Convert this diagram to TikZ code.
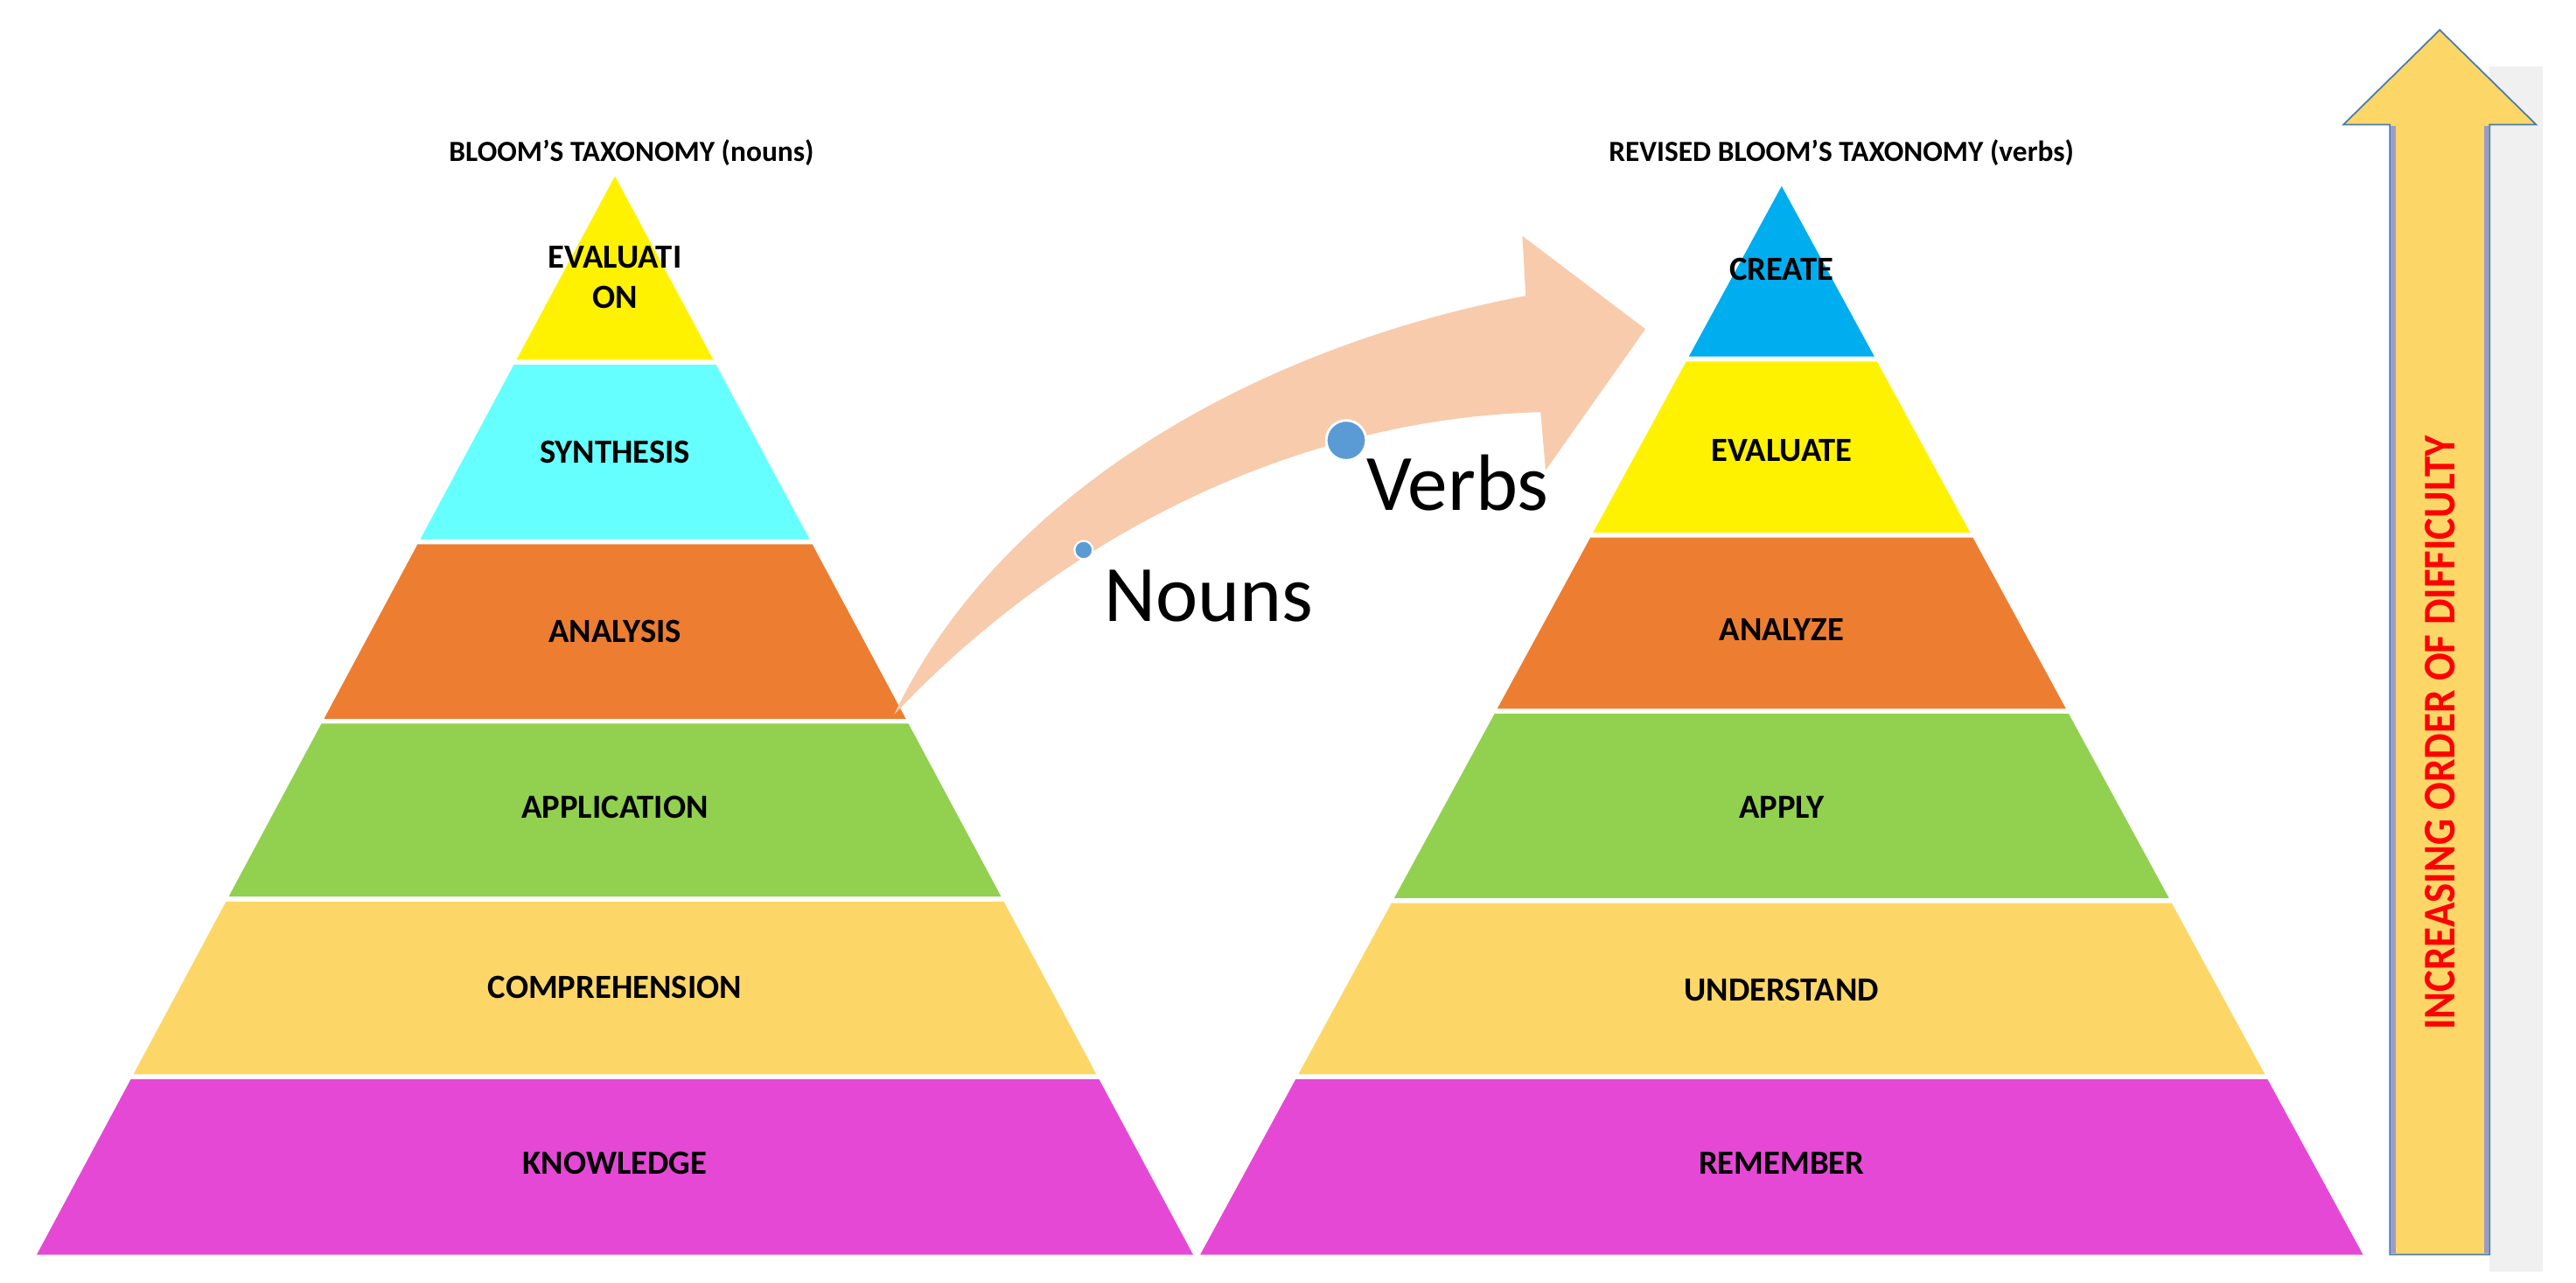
\documentclass[tikz,border=0pt]{standalone}
\usepackage{fontspec}
\setmainfont{Carlito}
\definecolor{cyanL}{HTML}{66FFFF}
\definecolor{orng}{HTML}{ED7D31}
\definecolor{grn}{HTML}{92D050}
\definecolor{lor}{HTML}{FCD767}
\definecolor{mag}{HTML}{E648D6}
\definecolor{peach}{HTML}{F7CBAC}
\definecolor{dotb}{HTML}{5B9BD5}
\newcommand\pband[6]{\fill[#6] ({#1-#3*(#4-#2)},#4) -- ({#1+#3*(#4-#2)},#4) -- ({#1+#3*(#5-#2)},#5) -- ({#1-#3*(#5-#2)},#5) -- cycle;}
\begin{document}
\begin{tikzpicture}[x=0.019cm,y=-0.019cm,
  lbl/.style={font=\fontsize{11}{13}\selectfont\bfseries,align=center},
  ttl/.style={font=\fontsize{9.5}{11}\selectfont\bfseries},
  big/.style={font=\fontsize{26}{30}\selectfont,anchor=base west}]
\useasboundingbox (0,0) rectangle (1550,771.6);
% background strip
\fill[black!6] (1498,40) rectangle (1530,765);
% left pyramid
\pband{370}{106}{0.536}{106}{216.5}{yellow}
\pband{370}{106}{0.536}{219.5}{324.5}{cyanL}
\pband{370}{106}{0.536}{327.5}{432.5}{orng}
\pband{370}{106}{0.536}{435.5}{539.5}{grn}
\pband{370}{106}{0.536}{542.5}{646.5}{lor}
\pband{370}{106}{0.536}{649.5}{755}{mag}
% right pyramid
\pband{1072}{112}{0.544}{112}{214.5}{cyan}
\pband{1072}{112}{0.544}{217.5}{320.5}{yellow}
\pband{1072}{112}{0.544}{323.5}{426.5}{orng}
\pband{1072}{112}{0.544}{429.5}{540.5}{grn}
\pband{1072}{112}{0.544}{543.5}{646.5}{lor}
\pband{1072}{112}{0.544}{649.5}{755}{mag}
% titles
\node[ttl] (t1) at (380,92) {BLOOM’S TAXONOMY (nouns)};
\node[ttl] (t2) at (1108,92) {REVISED BLOOM’S TAXONOMY (verbs)};
% left labels
\node[lbl] (l1) at (370,167) {EVALUATI\\ON};
\node[lbl] (l2) at (370,272) {SYNTHESIS};
\node[lbl] (l3) at (370,380) {ANALYSIS};
\node[lbl] (l4) at (370,486) {APPLICATION};
\node[lbl] (l5) at (370,594) {COMPREHENSION};
\node[lbl] (l6) at (370,700) {KNOWLEDGE};
% right labels
\node[lbl] (r1) at (1072,162) {CREATE};
\node[lbl] (r2) at (1072,271) {EVALUATE};
\node[lbl] (r3) at (1072,379) {ANALYZE};
\node[lbl] (r4) at (1072,486) {APPLY};
\node[lbl] (r5) at (1072,596) {UNDERSTAND};
\node[lbl] (r6) at (1072,700) {REMEMBER};
% curved arrow
\fill[peach] (538,430) .. controls (600,300) and (750,210) .. (918,178) -- (916,142) -- (990,198) -- (930,283) -- (927,248) .. controls (780,252) and (640,322) .. (538,430) -- cycle;
\fill[dotb,draw=white,line width=0.6pt] (652,331) circle (5.5);
\fill[dotb,draw=white,line width=0.8pt] (810,265) circle (12);
\node[big,inner sep=0] (nouns) at (664,374) {Nouns};
\node[big,inner sep=0] (verbs) at (822,307) {Verbs};
% vertical arrow
\filldraw[fill=lor,draw=dotb!80!black,line width=0.5pt] (1438,755) -- (1438,75) -- (1410,75) -- (1468,18) -- (1526,75) -- (1498,75) -- (1498,755) -- cycle;
\draw[gray!70!blue!60,line width=1.5pt] (1440,76) -- (1440,754) (1496,76) -- (1496,754);
\node[rotate=90,text=red,inner sep=0] (diff) at (1468,441) {\resizebox{6.8cm}{0.34cm}{\bfseries INCREASING ORDER OF DIFFICULTY}};
\end{tikzpicture}
\end{document}
